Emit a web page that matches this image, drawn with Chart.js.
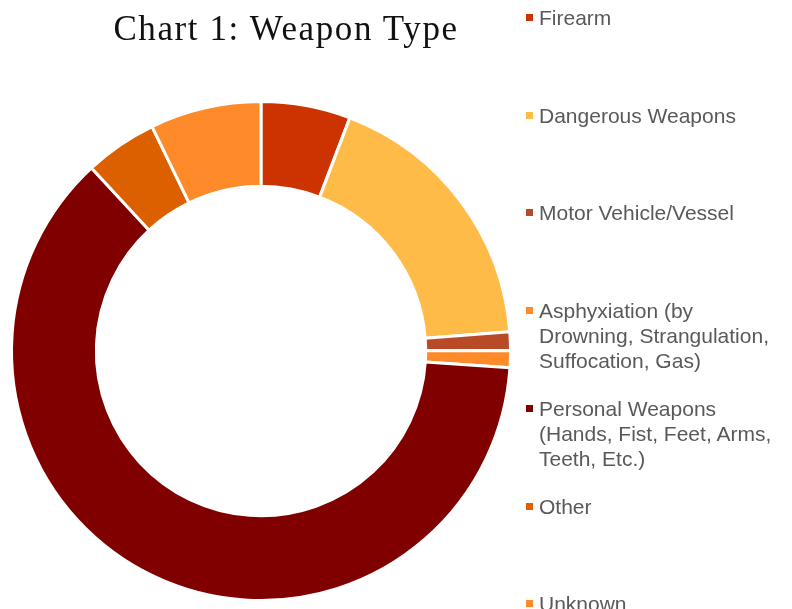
<!DOCTYPE html>
<html>
<head>
<meta charset="utf-8">
<script src="https://cdn.jsdelivr.net/npm/chart.js@4/dist/chart.umd.min.js"></script>
<style>
  body { margin: 0; background: #fff; }
  #wrap { position: relative; width: 792px; height: 609px; overflow: hidden; }
  #title {
    position: absolute; left: 86px; width: 400px; top: 9px;
    text-align: center; font-family: "Liberation Serif", serif; font-size: 35px;
    letter-spacing: 1.6px; color: #111;
  }
  #legend { position: absolute; left: 526px; top: 0; font-family: "Liberation Sans", Arial, sans-serif; font-size: 21px; color: #595959; }
  .item { position: absolute; left: 0; width: 270px; line-height: 25px; }
  .box { position: absolute; left: 0; top: 9px; width: 7px; height: 7px; }
  .txt { position: absolute; left: 13px; white-space: nowrap; }
</style>
</head>
<body>
<div id="wrap">
  <canvas id="chart" width="792" height="609"></canvas>
  <div id="title">Chart 1: Weapon Type</div>
  <div id="legend"></div>
</div>
<script>
// weapon types, share of incidents (%)
const labels = [
    'Firearm',
    'Dangerous Weapons',
    'Motor Vehicle/Vessel',
    'Asphyxiation (by Drowning, Strangulation, Suffocation, Gas)',
    'Personal Weapons (Hands, Fist, Feet, Arms, Teeth, Etc.)',
    'Other',
    'Unknown'
];
const legendLines = [
    ['Firearm'],
    ['Dangerous Weapons'],
    ['Motor Vehicle/Vessel'],
    ['Asphyxiation (by', 'Drowning, Strangulation,', 'Suffocation, Gas)'],
    ['Personal Weapons', '(Hands, Fist, Feet, Arms,', 'Teeth, Etc.)'],
    ['Other'],
    ['Unknown']
];
const values = [5.8, 18.0, 1.2, 1.1, 62.1, 4.7, 7.2];
const colors = ['#CC3300', '#FFBB48', '#B84A28', '#FF8A2A', '#800000', '#DD6000', '#FE8A2A'];

const ctx = document.getElementById('chart').getContext('2d');
const chart = new Chart(ctx, {
    type: 'doughnut',
    data: {
        labels: labels,
        datasets: [{
            data: values,
            backgroundColor: colors,
            borderColor: '#ffffff',
            borderWidth: 3
        }]
    },
    options: {
        responsive: false,
        animation: false,
        cutout: '66%',
        layout: { padding: { left: 10, right: 280, top: 100, bottom: 7 } },
        plugins: {
            legend: { display: false },
            tooltip: { enabled: false }
        }
    }
});

// legend on the right, one entry every ~98px
const legend = document.getElementById('legend');
legendLines.forEach((lines, i) => {
    const item = document.createElement('div');
    item.className = 'item';
    item.style.top = (5 + i * 97.7) + 'px';
    const box = document.createElement('div');
    box.className = 'box';
    box.style.background = colors[i];
    const txt = document.createElement('div');
    txt.className = 'txt';
    txt.innerHTML = lines.join('<br>');
    item.appendChild(box);
    item.appendChild(txt);
    legend.appendChild(item);
});
</script>
</body>
</html>
